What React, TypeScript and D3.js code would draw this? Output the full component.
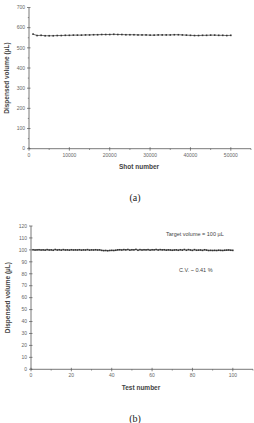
import React from "react";
import * as d3 from "d3";

const shotNumbers = d3.range(1, 51).map((i) => i * 1000);
const shotVolumes = [568, 561, 562, 560, 560, 560, 561, 561, 562, 562, 563, 563, 563, 564, 564, 565, 565, 566, 566, 566, 567, 566, 566, 565, 565, 565, 564, 564, 564, 563, 563, 564, 564, 564, 564, 565, 565, 564, 563, 562, 561, 561, 562, 562, 563, 563, 562, 562, 561, 562];
const xTicksA = [0, 10000, 20000, 30000, 40000, 50000];
const yTicksA = [0, 100, 200, 300, 400, 500, 600, 700];

const testNumbers = d3.range(1, 101);
const testVolumes = [100.1, 99.9, 100.0, 100.1, 99.9, 100.0, 99.8, 100.2, 99.9, 100.0, 99.7, 100.3, 99.9, 100.1, 99.8, 100.2, 99.9, 100.0, 99.8, 100.1, 99.9, 100.0, 99.9, 100.1, 99.8, 100.0, 99.9, 100.2, 99.8, 100.0, 99.9, 100.1, 99.9, 100.0, 99.6, 99.4, 99.5, 99.3, 99.5, 99.6, 99.5, 99.7, 100.0, 100.1, 99.9, 100.2, 100.0, 100.3, 99.8, 100.1, 100.0, 100.4, 99.7, 100.2, 99.9, 100.1, 100.0, 100.2, 99.8, 100.1, 100.0, 100.3, 99.9, 100.2, 100.0, 100.1, 99.8, 100.0, 99.9, 99.7, 99.9, 100.0, 99.7, 100.1, 99.8, 100.3, 99.7, 100.2, 99.9, 99.6, 100.2, 99.7, 99.8, 99.9, 99.6, 100.1, 99.8, 99.5, 99.6, 99.5, 99.6, 99.5, 99.7, 99.6, 99.5, 99.7, 99.8, 99.9, 99.7, 99.6];
const xTicksB = [0, 20, 40, 60, 80, 100];
const yTicksB = [0, 10, 20, 30, 40, 50, 60, 70, 80, 90, 100, 110, 120];

const axisColor = "#555";
const labelColor = "#666";
const markColor = "#333";

function Panel({ xs, ys, xDomain, xRange, yDomain, yRange, xTicks, yTicks, xMinor, yMinor, xTitle, yTitle, xTitleY, yTitleX, fmt }: any) {
  const x = d3.scaleLinear().domain(xDomain).range(xRange);
  const y = d3.scaleLinear().domain(yDomain).range(yRange);
  const line = d3.line<number>().x((_, i) => x(xs[i])).y((v) => y(v));
  const x0 = xRange[0];
  const y0 = yRange[0];
  return (
    <g fontFamily="Liberation Sans, Arial, sans-serif">
      <line x1={x0} x2={x0} y1={y0} y2={yRange[1]} stroke={axisColor} strokeWidth={0.8} />
      <line x1={x0} x2={xRange[1]} y1={y0} y2={y0} stroke={axisColor} strokeWidth={0.8} />
      {yTicks.map((t: number) => (
        <g key={"y" + t}>
          <line x1={x0 - 2} x2={x0 + 1.5} y1={y(t)} y2={y(t)} stroke={axisColor} strokeWidth={0.7} />
          <text x={x0 - 4} y={y(t)} dy="0.35em" fontSize={5} fill={labelColor} textAnchor="end">{t}</text>
        </g>
      ))}
      {yMinor.map((t: number) => (
        <line key={"ym" + t} x1={x0 - 1.2} x2={x0} y1={y(t)} y2={y(t)} stroke={axisColor} strokeWidth={0.6} />
      ))}
      {xTicks.map((t: number) => (
        <g key={"x" + t}>
          <line x1={x(t)} x2={x(t)} y1={y0 - 1.5} y2={y0 + 2} stroke={axisColor} strokeWidth={0.7} />
          <text x={x(t)} y={y0 + 8} fontSize={5} fill={labelColor} textAnchor="middle">{fmt(t)}</text>
        </g>
      ))}
      {xMinor.map((t: number) => (
        <line key={"xm" + t} x1={x(t)} x2={x(t)} y1={y0} y2={y0 + 1.3} stroke={axisColor} strokeWidth={0.6} />
      ))}
      <path d={line(ys) || ""} fill="none" stroke={markColor} strokeWidth={0.7} />
      {ys.map((v: number, i: number) => (
        <rect key={i} x={x(xs[i]) - 0.8} y={y(v) - 0.8} width={1.6} height={1.6} fill={markColor} />
      ))}
      <text x={(xRange[0] + xRange[1]) / 2 - 1} y={xTitleY} fontSize={6.5} fontWeight="bold" fill="#444" textAnchor="middle">{xTitle}</text>
      <text transform={`translate(${yTitleX},${(yRange[0] + yRange[1]) / 2}) rotate(-90)`} fontSize={6.5} fontWeight="bold" fill="#444" textAnchor="middle">{yTitle}</text>
    </g>
  );
}

export default function App() {
  return (
    <svg width={254} height={423} style={{ position: "absolute", left: 0, top: 0, background: "#fff" }}>
      <Panel
        xs={shotNumbers}
        ys={shotVolumes}
        xDomain={[0, 55000]}
        xRange={[29, 251]}
        yDomain={[0, 700]}
        yRange={[148.7, 7.5]}
        xTicks={xTicksA}
        yTicks={yTicksA}
        xMinor={[5000, 15000, 25000, 35000, 45000, 55000]}
        yMinor={[50, 150, 250, 350, 450, 550, 650]}
        xTitle="Shot number"
        yTitle="Dispensed volume (µL)"
        xTitleY={169}
        yTitleX={9}
        fmt={(t: number) => String(t)}
      />
      <text x={135} y={201} fontSize={10} fontFamily="Liberation Serif, Times New Roman, serif" textAnchor="middle" fill="#222">(a)</text>
      <Panel
        xs={testNumbers}
        ys={testVolumes}
        xDomain={[0, 110]}
        xRange={[31, 253]}
        yDomain={[0, 120]}
        yRange={[369.3, 226]}
        xTicks={xTicksB}
        yTicks={yTicksB}
        xMinor={[10, 30, 50, 70, 90, 110]}
        yMinor={[]}
        xTitle="Test number"
        yTitle="Dispensed volume (µL)"
        xTitleY={390}
        yTitleX={10}
        fmt={(t: number) => String(t)}
      />
      <text x={166} y={236} fontSize={5.5} fill="#444" fontFamily="Liberation Sans, Arial, sans-serif">Target volume = 100 µL</text>
      <text x={179} y={272} fontSize={5.5} fill="#444" fontFamily="Liberation Sans, Arial, sans-serif">C.V. ~ 0.41 %</text>
      <text x={135} y={422} fontSize={10} fontFamily="Liberation Serif, Times New Roman, serif" textAnchor="middle" fill="#222">(b)</text>
    </svg>
  );
}
